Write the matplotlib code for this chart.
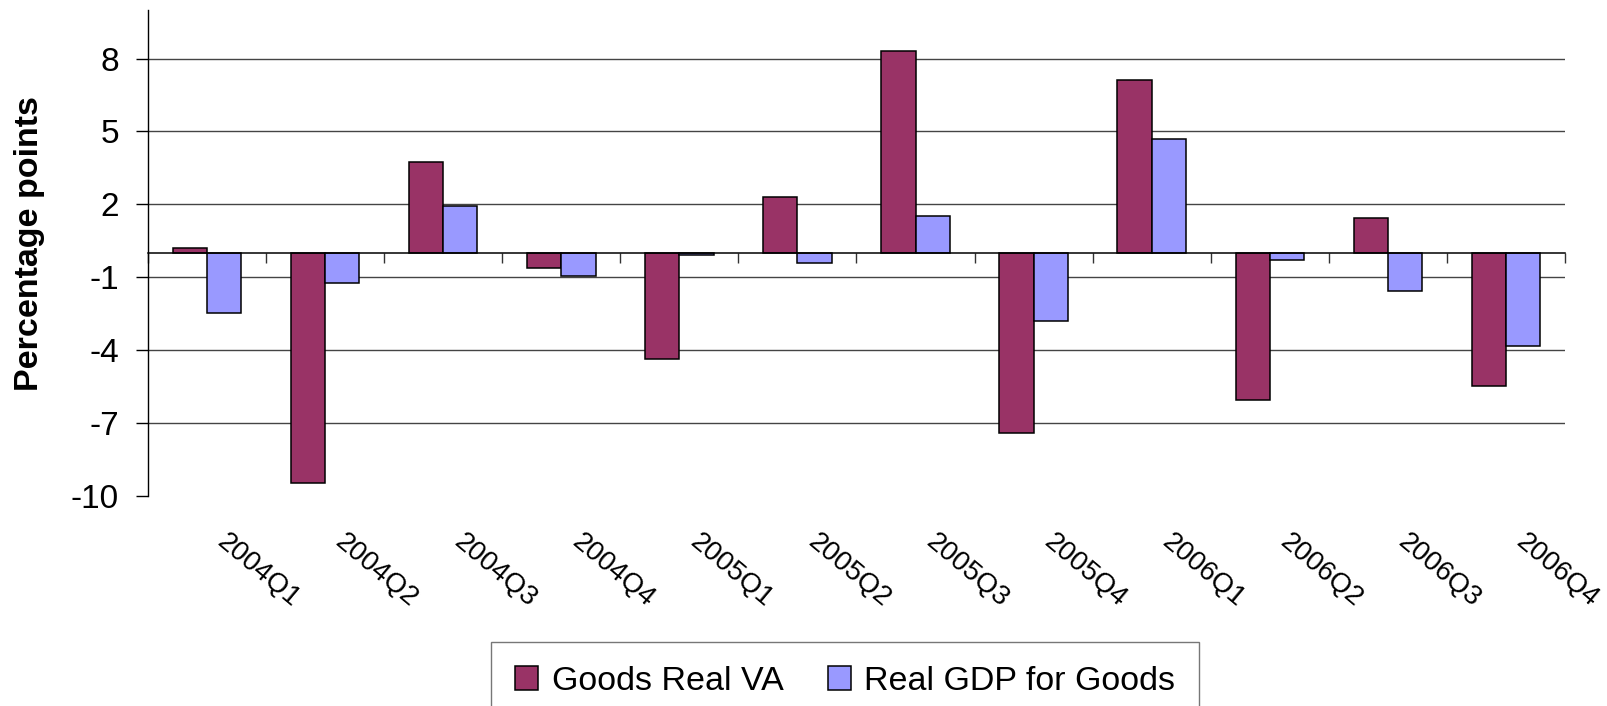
import numpy as np
import matplotlib
matplotlib.use("Agg")
import matplotlib.pyplot as plt
from matplotlib import transforms

plt.rcParams['font.family'] = ['Liberation Sans', 'DejaVu Sans']

# quarterly contributions, percentage points
quarters = ["2004Q1", "2004Q2", "2004Q3", "2004Q4",
            "2005Q1", "2005Q2", "2005Q3", "2005Q4",
            "2006Q1", "2006Q2", "2006Q3", "2006Q4"]
goods_real_va = [0.2, -9.45, 3.75, -0.6, -4.35, 2.3, 8.33, -7.4, 7.1, -6.05, 1.45, -5.47]
real_gdp_goods = [-2.47, -1.23, 1.92, -0.95, -0.1, -0.4, 1.52, -2.8, 4.68, -0.3, -1.55, -3.82]
yticks = [8, 5, 2, -1, -4, -7, -10]

fig = plt.figure(figsize=(16.07, 7.06), dpi=100)
ax = fig.add_axes([148 / 1607, 1 - 496 / 706, (1565 - 148) / 1607, 486 / 706])

x = np.arange(len(quarters))
w = 0.29
ax.bar(x - w / 2, goods_real_va, w, color="#993366", edgecolor="black",
       linewidth=1.1, label="Goods Real VA", zorder=3)
ax.bar(x + w / 2, real_gdp_goods, w, color="#9999FF", edgecolor="black",
       linewidth=1.1, label="Real GDP for Goods", zorder=3)

ax.set_xlim(-0.5, len(quarters) - 0.5)
ax.set_ylim(-10, 10)

# horizontal grid, skip the bottom tick
for v in yticks[:-1]:
    ax.axhline(v, color="#444444", linewidth=1, zorder=1)

for s in ["top", "right"]:
    ax.spines[s].set_visible(False)
ax.spines["left"].set_linewidth(1)

# category axis sits on zero
ax.spines["bottom"].set_position(("data", 0))
ax.spines["bottom"].set_linewidth(1.1)
ax.spines["bottom"].set_zorder(4)
ax.set_xticks(np.arange(len(quarters) + 1) - 0.5)
ax.set_xticklabels([])
ax.tick_params(axis="x", direction="out", length=7, width=1, color="#333333")

ax.set_yticks(yticks)
ax.set_yticklabels([str(t) for t in yticks])
ax.tick_params(axis="y", direction="out", length=9, width=1, pad=12, labelsize=24)

ax.set_ylabel("Percentage points", fontsize=24.5, fontweight="bold")
ax.yaxis.set_label_coords(-0.073, 0.52)

# rotated quarter labels under the plot area
trans = transforms.blended_transform_factory(ax.transData, ax.transAxes)
offset = transforms.ScaledTranslation(22 / 100, -33 / 100, fig.dpi_scale_trans)
for i, q in enumerate(quarters):
    ax.text(i, 0, q, transform=trans + offset, rotation=-40, rotation_mode="anchor",
            ha="left", va="top", fontsize=20)

leg = fig.legend(loc="upper left", bbox_to_anchor=(491 / 1607, 1 - 642 / 706),
                 ncol=2, fontsize=24.5, frameon=True, fancybox=False, borderaxespad=0,
                 handlelength=0.68, handleheight=0.68, handletextpad=0.4,
                 columnspacing=1.3, borderpad=0.7)
leg.get_frame().set_edgecolor("#555555")
leg.get_frame().set_linewidth(1)

fig.savefig("out.png", dpi=100)
